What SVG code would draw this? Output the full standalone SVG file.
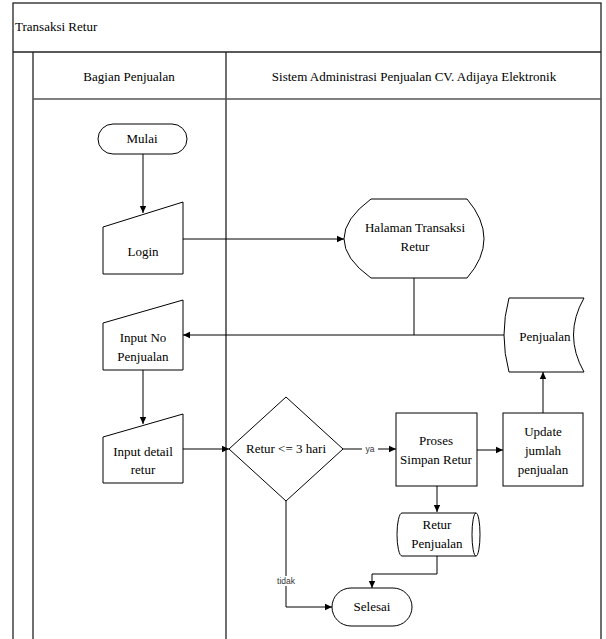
<svg xmlns="http://www.w3.org/2000/svg" width="606" height="639" viewBox="0 0 606 639">
<defs>
<marker id="arr" markerWidth="8" markerHeight="8" refX="7" refY="4" orient="auto" markerUnits="userSpaceOnUse">
<path d="M0,0.8 L7,4 L0,7.2 Z" fill="#000"/>
</marker>
<style>
.frame{fill:none;stroke:#222;stroke-width:1.3}
.shape{fill:#fff;stroke:#000;stroke-width:1}
.conn{fill:none;stroke:#000;stroke-width:1}
.t{font-family:'Liberation Serif','Times New Roman','DejaVu Serif',serif;font-size:13px;fill:#000;text-anchor:middle}
.h{font-family:'Liberation Serif','Times New Roman','DejaVu Serif',serif;font-size:13px;fill:#000}
.lbl{font-family:'Liberation Sans',Arial,sans-serif;font-size:8.5px;fill:#333;text-anchor:middle}
</style>
</defs>
<rect width="606" height="639" fill="#fff"/>
<g id="frame">
<rect class="frame" x="13" y="3" width="588" height="645"/>
<line class="frame" x1="13" y1="52" x2="601" y2="52"/>
<line class="frame" x1="33" y1="52" x2="33" y2="639"/>
<line class="frame" x1="226" y1="52" x2="226" y2="639"/>
<line x1="33" y1="99" x2="601" y2="99" stroke="#555" stroke-width="1.5"/>
<text class="h" font-family="Liberation Serif, serif" x="15" y="31">Transaksi Retur</text>
<text class="t" font-family="Liberation Serif, serif" x="129" y="81">Bagian Penjualan</text>
<text class="t" font-family="Liberation Serif, serif" x="414" y="81">Sistem Administrasi Penjualan CV. Adijaya Elektronik</text>
</g>
<g id="connectors">
<line class="conn" x1="143" y1="154" x2="143" y2="213" marker-end="url(#arr)"/>
<line class="conn" x1="183" y1="239" x2="344" y2="239" marker-end="url(#arr)"/>
<line class="conn" x1="414" y1="278" x2="414" y2="335"/>
<line class="conn" x1="504" y1="335" x2="183" y2="335" marker-end="url(#arr)"/>
<line class="conn" x1="143" y1="370" x2="143" y2="424" marker-end="url(#arr)"/>
<polyline class="conn" points="183,449 197,449 229,449" marker-end="url(#arr)"/>
<line class="conn" x1="343" y1="449" x2="396" y2="449" marker-end="url(#arr)"/>
<line class="conn" x1="477" y1="450" x2="503" y2="450" marker-end="url(#arr)"/>
<line class="conn" x1="543" y1="413" x2="543" y2="372" marker-end="url(#arr)"/>
<line class="conn" x1="437" y1="486" x2="437" y2="512" marker-end="url(#arr)"/>
<polyline class="conn" points="437,556 437,574 372,574 372,588" marker-end="url(#arr)"/>
<polyline class="conn" points="286,501 286,607 332,607" marker-end="url(#arr)"/>
<rect x="362" y="444" width="16" height="10" fill="#fff"/>
<text class="lbl" x="370" y="452">ya</text>
<rect x="275" y="576" width="22" height="10" fill="#fff"/>
<text class="lbl" x="286" y="584">tidak</text>
</g>
<g id="mulai">
<rect class="shape" x="98" y="124" width="89" height="30" rx="15"/>
<text class="t" font-family="Liberation Serif, serif" x="142" y="143">Mulai</text>
</g>
<g id="login">
<polygon class="shape" points="103,227 183,202 183,274 103,274"/>
<text class="t" font-family="Liberation Serif, serif" x="143" y="256">Login</text>
</g>
<g id="halaman">
<path class="shape" d="M371,199 L467,199 Q501,239 467,278 L371,278 Q317,239 371,199 Z"/>
<text class="t" font-family="Liberation Serif, serif" x="415" y="232">Halaman Transaksi</text>
<text class="t" font-family="Liberation Serif, serif" x="415" y="251">Retur</text>
</g>
<g id="penjualan">
<path class="shape" d="M509,298 L584,298 Q563,335 584,372 L509,372 Q499,335 509,298 Z"/>
<text class="t" font-family="Liberation Serif, serif" x="545" y="341">Penjualan</text>
</g>
<g id="input-no">
<polygon class="shape" points="103,323 183,300 183,370 103,370"/>
<text class="t" font-family="Liberation Serif, serif" x="143" y="342">Input No</text>
<text class="t" font-family="Liberation Serif, serif" x="143" y="361">Penjualan</text>
</g>
<g id="input-detail">
<polygon class="shape" points="103,437 183,414 183,483 103,483"/>
<text class="t" font-family="Liberation Serif, serif" x="143" y="456">Input detail</text>
<text class="t" font-family="Liberation Serif, serif" x="143" y="474">retur</text>
</g>
<g id="decision">
<polygon class="shape" points="229,449 286,397 343,449 286,501"/>
<text class="t" font-family="Liberation Serif, serif" x="286" y="453">Retur &lt;= 3 hari</text>
</g>
<g id="proses">
<rect class="shape" x="396" y="413" width="81" height="73"/>
<text class="t" font-family="Liberation Serif, serif" x="436" y="445">Proses</text>
<text class="t" font-family="Liberation Serif, serif" x="436" y="464">Simpan Retur</text>
</g>
<g id="update">
<rect class="shape" x="503" y="413" width="80" height="73"/>
<text class="t" font-family="Liberation Serif, serif" x="543" y="436">Update</text>
<text class="t" font-family="Liberation Serif, serif" x="543" y="455">jumlah</text>
<text class="t" font-family="Liberation Serif, serif" x="543" y="474">penjualan</text>
</g>
<g id="retur-penjualan">
<path class="shape" d="M402,513 L476,513 A4,21.5 0 0 1 476,556 L402,556 A5,21.5 0 0 1 402,513 Z"/>
<path class="conn" d="M476,513 A4,21.5 0 0 0 476,556"/>
<text class="t" font-family="Liberation Serif, serif" x="437" y="529">Retur</text>
<text class="t" font-family="Liberation Serif, serif" x="437" y="548">Penjualan</text>
</g>
<g id="selesai">
<rect class="shape" x="332" y="588" width="80" height="38" rx="19"/>
<text class="t" font-family="Liberation Serif, serif" x="372" y="611">Selesai</text>
</g>
</svg>
